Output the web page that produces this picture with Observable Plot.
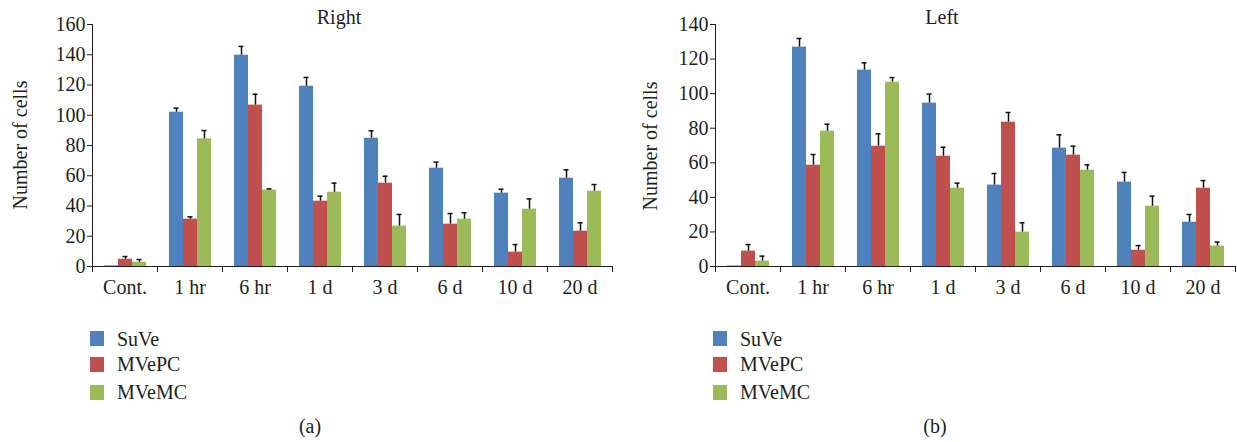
<!DOCTYPE html>
<html>
<head>
<meta charset="utf-8">
<script src="https://cdn.jsdelivr.net/npm/d3@7"></script>
<script src="https://cdn.jsdelivr.net/npm/@observablehq/plot@0.6"></script>
<style>
  body { margin: 0; background: #fff; }
  #root { position: relative; width: 1237px; height: 442px; font-family: "Liberation Serif", "Times New Roman", Times, serif; color: #231f20; overflow: hidden; }
  .t { position: absolute; font-size: 20px; line-height: 23px; white-space: nowrap; }
  .sw { position: absolute; width: 14px; height: 15px; }
  .p { position: absolute; top: 0; }
</style>
</head>
<body>
<div id="root"></div>
<script>
// ---- data ----
const categories = ["Cont.", "1 hr", "6 hr", "1 d", "3 d", "6 d", "10 d", "20 d"];
const seriesNames = ["SuVe", "MVePC", "MVeMC"];
const seriesColors = ["#4F81BD", "#C0504D", "#9BBB59"];

// Panel (a) Right
const rightSuVe = [0.4, 102, 139.7, 119.2, 84.8, 65.0, 48.5, 58.4];
const rightSuVeErr = [0, 2.7, 5.8, 5.8, 4.9, 4.0, 2.6, 5.5];
const rightMVePC = [4.8, 31.3, 106.7, 43.2, 55.1, 28.0, 9.5, 23.4];
const rightMVePCErr = [1.8, 1.5, 7.2, 3.3, 4.6, 7.0, 5.0, 5.5];
const rightMVeMC = [2.9, 84.4, 50.5, 49.1, 26.7, 31.3, 37.9, 49.8];
const rightMVeMCErr = [1.7, 5.5, 0.8, 6.0, 7.7, 4.2, 6.8, 4.4];

// Panel (b) Left
const leftSuVe = [0.3, 126.9, 113.6, 94.5, 47.1, 68.5, 48.8, 25.6];
const leftSuVeErr = [0, 5.0, 4.2, 5.2, 6.7, 7.7, 5.6, 4.5];
const leftMVePC = [8.9, 58.6, 69.6, 63.8, 83.5, 64.4, 9.4, 45.3];
const leftMVePCErr = [3.8, 6.2, 7.1, 5.2, 5.6, 5.2, 2.7, 4.4];
const leftMVeMC = [3.1, 78.3, 106.6, 45.3, 19.9, 55.7, 34.9, 11.8];
const leftMVeMCErr = [2.9, 4.0, 2.7, 2.9, 5.4, 3.1, 5.8, 2.3];

const rightTicks = [0, 20, 40, 60, 80, 100, 120, 140, 160];
const leftTicks = [0, 20, 40, 60, 80, 100, 120, 140];

// ---- helpers ----
const root = document.getElementById("root");
const FONT = "'Liberation Serif', 'Times New Roman', Times, serif";

function rowsFrom(values, errs) {
  const rows = [];
  categories.forEach((c, i) => {
    seriesNames.forEach((s, j) => {
      rows.push({cat: c, series: s, value: values[j][i], err: errs[j][i]});
    });
  });
  return rows;
}

function panel({values, errs, ticks, width, marginRight}) {
  const rows = rowsFrom(values, errs);
  const errRows = rows.filter(d => d.err > 0);
  const H = 305, mt = 24, mb = 39;
  return Plot.plot({
    width, height: H,
    marginLeft: 90, marginRight, marginTop: mt, marginBottom: mb,
    style: {fontFamily: FONT, fontSize: "20px", color: "#231f20", background: "transparent", overflow: "visible"},
    fx: {domain: categories, padding: 0, axis: "bottom", tickSize: 0, tickPadding: 13, label: null},
    x: {domain: seriesNames, axis: null, paddingInner: 0, paddingOuter: 0.76},
    y: {domain: [0, ticks[ticks.length - 1]], ticks, tickSize: 5, tickPadding: 2, label: null, line: true},
    color: {domain: seriesNames, range: seriesColors},
    marks: [
      Plot.barY(rows, {fx: "cat", x: "series", y: "value", fill: "series"}),
      Plot.ruleX(errRows, {fx: "cat", x: "series", y1: "value", y2: d => d.value + d.err, stroke: "#111", strokeWidth: 1.5}),
      Plot.tickY(errRows, {fx: "cat", x: "series", y: d => d.value + d.err, stroke: "#111", strokeWidth: 1.5, insetLeft: 4.5, insetRight: 4.5}),
      Plot.ruleY([0], {stroke: "#231f20", strokeWidth: 1.2}),
      Plot.frame({anchor: "left", insetTop: H - mt - mb, insetBottom: -5, stroke: "#231f20"}),
      Plot.frame({anchor: "right", insetTop: H - mt - mb, insetBottom: -5, stroke: "#231f20"})
    ]
  });
}

function addText(txt, cx, baseline, opts = {}) {
  const d = document.createElement("div");
  d.className = "t";
  d.textContent = txt;
  d.style.left = cx + "px";
  d.style.top = (baseline - 18.25) + "px";
  d.style.transform = opts.center === false ? "none" : "translateX(-50%)";
  root.appendChild(d);
  return d;
}

function addRotated(txt, cx, cy) {
  const d = document.createElement("div");
  d.className = "t";
  d.textContent = txt;
  d.style.left = cx + "px";
  d.style.top = cy + "px";
  d.style.transform = "translate(-50%,-50%) rotate(-90deg)";
  root.appendChild(d);
}

function addLegend(x) {
  const tops = [331, 357, 385];
  const baselines = [346, 371.5, 399];
  seriesNames.forEach((s, i) => {
    const sw = document.createElement("div");
    sw.className = "sw";
    sw.style.left = x + "px";
    sw.style.top = tops[i] + "px";
    sw.style.background = seriesColors[i];
    root.appendChild(sw);
    addText(s, x + 27, baselines[i], {center: false});
  });
}

// ---- panel a ----
const pa = panel({
  values: [rightSuVe, rightMVePC, rightMVeMC],
  errs: [rightSuVeErr, rightMVePCErr, rightMVeMCErr],
  ticks: rightTicks, width: 618, marginRight: 4
});
pa.classList.add("p");
pa.style.left = "0px";
root.appendChild(pa);

// ---- panel b ----
const pb = panel({
  values: [leftSuVe, leftMVePC, leftMVeMC],
  errs: [leftSuVeErr, leftMVePCErr, leftMVeMCErr],
  ticks: leftTicks, width: 614, marginRight: 0
});
pb.classList.add("p");
pb.style.left = "623px";
root.appendChild(pb);

addText("Right", 339, 24);
addText("Left", 942, 24);
addRotated("Number of cells", 20, 145);
addRotated("Number of cells", 650, 146);
addLegend(90);
addLegend(713);
addText("(a)", 310, 433);
addText("(b)", 935, 433);
</script>
</body>
</html>
